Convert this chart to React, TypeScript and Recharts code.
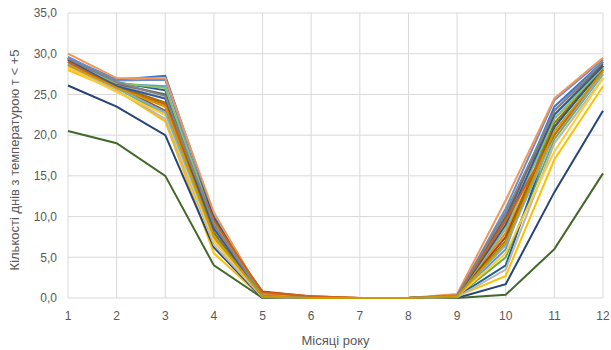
import React from 'react';
import { LineChart, Line, XAxis, YAxis, CartesianGrid } from 'recharts';

const months = [1, 2, 3, 4, 5, 6, 7, 8, 9, 10, 11, 12];
const yTicks = [0, 5, 10, 15, 20, 25, 30, 35];

const s1 = [29.5, 26.8, 27.3, 10.0, 0.3, 0, 0, 0, 0.2, 9.5, 23.5, 29.0];
const s2 = [29.3, 26.0, 23.5, 8.5, 0.5, 0.1, 0, 0, 0.3, 8.0, 21.0, 28.5];
const s3 = [28.8, 26.2, 24.5, 8.0, 0.2, 0, 0, 0, 0.3, 10.5, 22.0, 28.0];
const s4 = [28.0, 25.5, 21.7, 5.5, 0, 0, 0, 0, 0.2, 2.7, 17.0, 26.0];
const s5 = [29.0, 26.3, 26.0, 7.5, 0.2, 0, 0, 0, 0.2, 6.0, 22.5, 28.5];
const s6 = [29.2, 25.8, 22.5, 7.0, 0.2, 0, 0, 0, 0.2, 5.0, 19.5, 27.5];
const s7 = [26.1, 23.5, 20.0, 6.2, 0, 0, 0, 0, 0, 1.7, 13.0, 23.0];
const s8 = [29.5, 26.0, 23.0, 9.0, 0.8, 0.2, 0, 0, 0.2, 7.5, 21.0, 28.5];
const s9 = [29.3, 26.3, 25.0, 9.5, 0.3, 0, 0, 0, 0.2, 10.0, 23.0, 28.8];
const s10 = [29.0, 26.0, 24.0, 8.0, 0.2, 0, 0, 0, 0.2, 7.0, 21.5, 28.0];
const s11 = [29.4, 26.5, 25.5, 9.8, 0.2, 0, 0, 0, 0.2, 4.0, 21.0, 28.2];
const s12 = [20.5, 19.0, 15.0, 4.0, 0, 0, 0, 0, 0, 0.4, 6.0, 15.3];
const s13 = [29.6, 26.7, 26.8, 9.0, 0.2, 0, 0, 0, 0.2, 11.0, 24.3, 29.3];
const s14 = [30.0, 27.0, 27.0, 10.5, 0.3, 0.1, 0, 0, 0.5, 12.0, 24.5, 29.5];
const s15 = [28.5, 25.5, 22.0, 6.5, 0.1, 0, 0, 0, 0.1, 3.5, 19.0, 27.0];
const s16 = [28.3, 25.3, 22.5, 7.0, 0.2, 0, 0, 0, 0.2, 5.5, 18.0, 27.0];
const s17 = [28.7, 25.8, 22.8, 7.5, 0.2, 0, 0, 0, 0.2, 6.5, 20.0, 27.5];
const s18 = [29.0, 26.4, 25.8, 9.2, 0.3, 0, 0, 0, 0.2, 8.5, 22.0, 28.3];
const s19 = [29.2, 26.0, 24.5, 8.5, 0.2, 0, 0, 0, 0.2, 9.0, 22.5, 28.5];
const s20 = [29.0, 25.8, 23.8, 9.5, 0.7, 0.2, 0, 0, 0.3, 9.5, 20.0, 28.0];
const s21 = [29.4, 26.5, 24.8, 9.0, 0.2, 0, 0, 0, 0.3, 10.5, 23.0, 29.0];
const s22 = [28.6, 25.8, 23.5, 7.5, 0.2, 0, 0, 0, 0.2, 6.8, 20.5, 27.8];

const seriesValues = [s1, s2, s3, s4, s5, s6, s7, s8, s9, s10, s11, s12, s13, s14, s15, s16, s17, s18, s19, s20, s21, s22];
const seriesColors = [
  '#4472C4', '#ED7D31', '#A5A5A5', '#FFC000', '#5B9BD5', '#70AD47',
  '#264478', '#9E480E', '#636363', '#997300', '#255E91', '#43682B',
  '#698ED0', '#F1975A', '#B7B7B7', '#FFCD33', '#7CAFDD', '#8CC168',
  '#335AA1', '#D26012', '#848484', '#CC9A00',
];

const data = months.map((m, i) => {
  const row: Record<string, number> = { m };
  seriesValues.forEach((s, k) => {
    row['s' + (k + 1)] = s[i];
  });
  return row;
});

const fmt = (v: number) => v.toFixed(1).replace('.', ',');
const FONT = 'Liberation Sans, Arial, sans-serif';

export default function App() {
  return (
    <div style={{ position: 'absolute', left: 0, top: 0, width: 611, height: 350, background: '#fff' }}>
      <LineChart width={611} height={350} data={data} margin={{ top: 13, right: 8, bottom: 0, left: 0 }}>
        <CartesianGrid stroke="#d9d9d9" strokeWidth={1} />
        <XAxis
          dataKey="m"
          type="number"
          domain={[1, 12]}
          ticks={months}
          axisLine={false}
          tickLine={false}
          tickMargin={7}
          height={52}
          tick={{ fill: '#595959', fontSize: 12, fontFamily: FONT }}
          label={{ value: 'Місяці року', position: 'insideBottom', offset: 5, fill: '#595959', fontSize: 13, fontFamily: FONT }}
        />
        <YAxis
          domain={[0, 35]}
          ticks={yTicks}
          tickFormatter={fmt}
          axisLine={false}
          tickLine={false}
          tickMargin={5}
          width={68}
          tick={{ fill: '#595959', fontSize: 12, fontFamily: FONT }}
          label={{
            content: () => (
              <text
                x={14}
                y={160}
                textAnchor="middle"
                dominantBaseline="central"
                transform="rotate(-90, 14, 160)"
                fill="#595959"
                fontSize={13}
                fontFamily={FONT}
              >
                Кількості днів з температурою т &lt; +5
              </text>
            ),
          }}
        />
        {seriesValues.map((_, k) => (
          <Line
            key={k}
            dataKey={'s' + (k + 1)}
            stroke={seriesColors[k]}
            strokeWidth={2}
            dot={false}
            isAnimationActive={false}
          />
        ))}
      </LineChart>
    </div>
  );
}
